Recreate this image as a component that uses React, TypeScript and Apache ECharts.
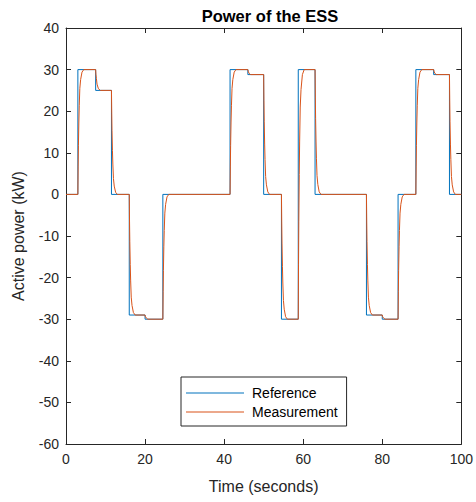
import React, { useEffect, useRef } from "react";
import * as echarts from "echarts";

// Reference step points: [time (s), new value (kW)]
const referenceSteps: [number, number][] = [
  [0, 0], [3, 30], [7.5, 25], [11.5, 0], [16, -29], [20, -30], [24.5, 0],
  [41.5, 30], [46, 28.8], [50, 0], [54.5, -30], [58.75, 30], [63, 0],
  [76, -29], [80, -30], [84, 0], [88.5, 30], [93, 28.8], [97, 0], [100, 0],
];

const measurementPoints: [number, number][] = [
  [0, 0],
  [3, 0], [3.07, 6.6], [3.14, 11.7], [3.25, 17.4], [3.35, 21.3], [3.5, 25.5], [3.7, 27.6], [4.05, 29.4], [4.5, 30],
  [7.5, 30], [7.57, 28.9], [7.68, 27.9], [7.85, 26.5], [8.2, 25.4], [8.7, 25],
  [11.5, 25], [11.57, 19.5], [11.64, 15.3], [11.75, 10.5], [11.85, 7.3], [12, 3.8], [12.2, 2], [12.55, 0.5], [13, 0],
  [16, 0], [16.07, -6.4], [16.14, -11.3], [16.25, -16.8], [16.35, -20.6], [16.5, -24.7], [16.7, -26.7], [17.05, -28.4], [17.5, -29],
  [20, -29], [20.1, -29.4], [20.3, -29.7], [20.7, -30],
  [24.5, -30], [24.57, -23.4], [24.64, -18.3], [24.75, -12.6], [24.85, -8.7], [25, -4.5], [25.2, -2.4], [25.55, -0.6], [26, 0],
  [41.5, 0], [41.57, 6.6], [41.64, 11.7], [41.75, 17.4], [41.85, 21.3], [42, 25.5], [42.2, 27.6], [42.55, 29.4], [43, 30],
  [46, 30], [46.1, 29.6], [46.3, 29.1], [46.7, 28.8],
  [50, 28.8], [50.07, 22.5], [50.14, 17.6], [50.25, 12.1], [50.35, 8.4], [50.5, 4.3], [50.7, 2.3], [51.05, 0.6], [51.5, 0],
  [54.5, 0], [54.57, -6.6], [54.64, -11.7], [54.75, -17.4], [54.85, -21.3], [55, -25.5], [55.2, -27.6], [55.55, -29.4], [56, -30],
  [58.75, -30], [58.82, -16.8], [58.89, -6.6], [59, 4.8], [59.1, 12.6], [59.25, 21], [59.45, 25.2], [59.8, 28.8], [60.25, 30],
  [63, 30], [63.07, 23.4], [63.14, 18.3], [63.25, 12.6], [63.35, 8.7], [63.5, 4.5], [63.7, 2.4], [64.05, 0.6], [64.5, 0],
  [76, 0], [76.07, -6.4], [76.14, -11.3], [76.25, -16.8], [76.35, -20.6], [76.5, -24.7], [76.7, -26.7], [77.05, -28.4], [77.5, -29],
  [80, -29], [80.1, -29.4], [80.3, -29.7], [80.7, -30],
  [84, -30], [84.07, -23.4], [84.14, -18.3], [84.25, -12.6], [84.35, -8.7], [84.5, -4.5], [84.7, -2.4], [85.05, -0.6], [85.5, 0],
  [88.5, 0], [88.57, 6.6], [88.64, 11.7], [88.75, 17.4], [88.85, 21.3], [89, 25.5], [89.2, 27.6], [89.55, 29.4], [90, 30],
  [93, 30], [93.1, 29.6], [93.3, 29.1], [93.7, 28.8],
  [97, 28.8], [97.07, 22.5], [97.14, 17.6], [97.25, 12.1], [97.35, 8.4], [97.5, 4.3], [97.7, 2.3], [98.05, 0.6], [98.5, 0],
  [100, 0],
];

const xMin = 0, xMax = 100, xStep = 20;
const yMin = -60, yMax = 40, yStep = 10;

const FONT = "'Liberation Sans', Arial, Helvetica, sans-serif";
const AXIS_COLOR = "#262626";
const BLUE = "#0072BD";
const ORANGE = "#D95319";

export default function App() {
  const ref = useRef<HTMLDivElement>(null);
  useEffect(() => {
    if (!ref.current) return;
    const chart = echarts.init(ref.current, undefined, { renderer: "svg" });
    const axisLine = { show: true, onZero: false, lineStyle: { color: AXIS_COLOR, width: 1 } };
    const tickIn = { show: true, inside: true, length: 5, lineStyle: { color: AXIS_COLOR, width: 1 } };
    chart.setOption({
      animation: false,
      backgroundColor: "#ffffff",
      title: {
        text: "Power of the ESS",
        left: 265,
        textAlign: "center",
        top: 2,
        textStyle: { fontFamily: FONT, fontSize: 16.5, fontWeight: "bold", color: "#000" },
      },
      grid: { left: 66, right: 14, top: 28, bottom: 58, containLabel: false },
      legend: {
        left: 181,
        top: 377,
        orient: "vertical",
        backgroundColor: "#fff",
        borderColor: AXIS_COLOR,
        borderWidth: 1,
        borderRadius: 0,
        padding: [9, 9, 7, 5],
        itemWidth: 58,
        itemHeight: 1,
        itemGap: 5,
        textStyle: { fontFamily: FONT, fontSize: 14, color: "#000", padding: [0, 0, 0, 3] },
        data: [
          { name: "Reference", icon: "rect", itemStyle: { color: BLUE } },
          { name: "Measurement", icon: "rect", itemStyle: { color: ORANGE } },
        ],
      },
      xAxis: [
        {
          type: "value", min: xMin, max: xMax, interval: xStep,
          name: "Time (seconds)", nameLocation: "middle", nameGap: 34,
          nameTextStyle: { fontFamily: FONT, fontSize: 16, color: AXIS_COLOR },
          axisLine, axisTick: tickIn,
          axisLabel: { fontFamily: FONT, fontSize: 14, color: AXIS_COLOR, margin: 8 },
          splitLine: { show: false },
        },
        {
          type: "value", min: xMin, max: xMax, interval: xStep, position: "top",
          axisLine, axisTick: tickIn, axisLabel: { show: false }, splitLine: { show: false },
        },
      ],
      yAxis: [
        {
          type: "value", min: yMin, max: yMax, interval: yStep,
          name: "Active power (kW)", nameLocation: "middle", nameGap: 40,
          nameTextStyle: { fontFamily: FONT, fontSize: 16, color: AXIS_COLOR },
          axisLine, axisTick: tickIn,
          axisLabel: { fontFamily: FONT, fontSize: 14, color: AXIS_COLOR, margin: 7 },
          splitLine: { show: false },
        },
        {
          type: "value", min: yMin, max: yMax, interval: yStep, position: "right",
          axisLine, axisTick: tickIn, axisLabel: { show: false }, splitLine: { show: false },
        },
      ],
      series: [
        {
          name: "Reference",
          type: "line",
          step: "end",
          data: referenceSteps,
          symbol: "none",
          lineStyle: { color: BLUE, width: 1 },
          itemStyle: { color: BLUE },
        },
        {
          name: "Measurement",
          type: "line",
          data: measurementPoints,
          symbol: "none",
          lineStyle: { color: ORANGE, width: 1 },
          itemStyle: { color: ORANGE },
        },
      ],
    });
    return () => chart.dispose();
  }, []);
  return (
    <div
      ref={ref}
      style={{ position: "fixed", left: 0, top: 0, width: 476, height: 502, background: "#fff" }}
    />
  );
}
